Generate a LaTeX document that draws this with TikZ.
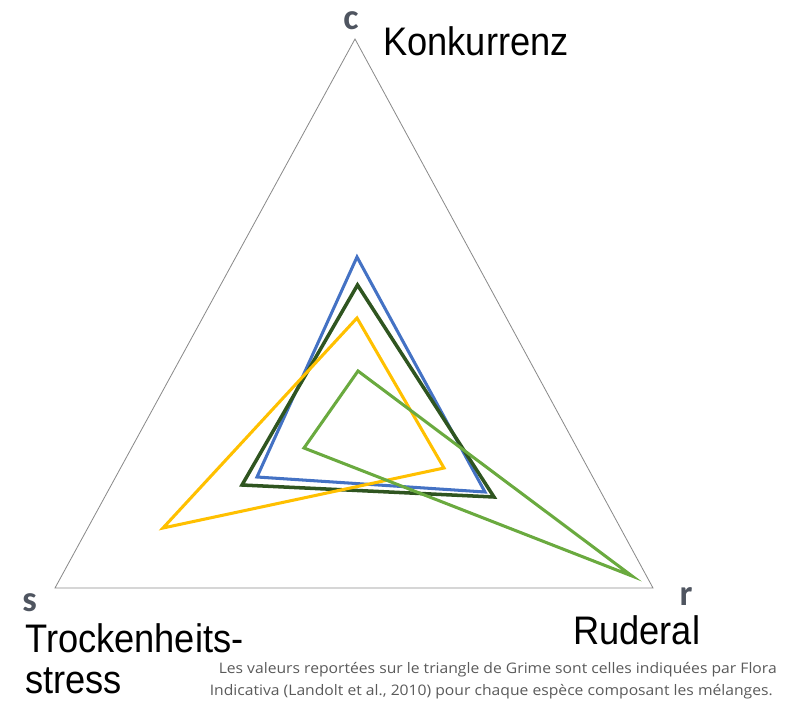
\documentclass[tikz,border=0pt]{standalone}
\usepackage{fontspec}
\setmainfont{Liberation Sans}
\newfontfamily\grlabelfont[FakeStretch=0.91]{Liberation Sans}
\newfontfamily\grletterfont{Carlito}
\newfontfamily\grnotefont[FakeStretch=1.08]{Open Sans}
\usetikzlibrary{positioning}
\definecolor{grframe}{HTML}{8A8A8A}
\definecolor{grink}{HTML}{000000}
\definecolor{grletterc}{HTML}{4F5560}
\definecolor{grnoteink}{HTML}{5A5A5A}
\definecolor{grblue}{HTML}{4472C4}
\definecolor{grdarkgreen}{HTML}{2F5520}
\definecolor{gryellow}{HTML}{FFC000}
\definecolor{grgreen}{HTML}{6AAA3F}
\tikzset{
  grtriangle/.style={draw=grframe, line width=0.7pt, line join=miter},
  grpoly/.style={line width=2.6pt, line join=miter},
  grletter/.style={font=\grletterfont\bfseries\fontsize{31}{31}\selectfont,
    text=grletterc, inner sep=0pt},
  grlabel/.style={font=\grlabelfont\fontsize{34}{35}\selectfont,
    text=grink, inner sep=0pt, anchor=base west},
  grnote/.style={font=\grnotefont\fontsize{12.4}{18.8}\selectfont,
    text=grnoteink, inner sep=0pt, anchor=base east},
}

\begin{document}
\begin{tikzpicture}[x=0.03cm, y=-0.03cm]
\useasboundingbox (0,0) rectangle (786,701);

% Grime triangle.
\coordinate (cpole) at (355, 39);
\coordinate (spole) at (55, 588);
\coordinate (rpole) at (653, 588);
\draw[grtriangle] (cpole) -- (spole) -- (rpole) -- cycle;

% Mixtures.
\draw[grpoly, draw=grblue]
  (357, 257) -- (257, 477) -- (485, 492) -- cycle;
\draw[grpoly, draw=grdarkgreen, line width=3pt]
  (357.5, 285) -- (242, 485) -- (494, 497) -- cycle;
\draw[grpoly, draw=gryellow]
  (357, 318) -- (163, 528) -- (444, 468) -- cycle;
\draw[grpoly, draw=grgreen]
  (358, 371) -- (304, 448) -- (632, 576) -- cycle;

% Pole letters and names.
\node[grletter] (cletter) at (351, 21) {c};
\node[grletter] (sletter) at (29.5, 603) {s};
\node[grletter] (rletter) at (686, 597) {r};
\node[grlabel] (cname) at (383, 55) {Konkurrenz};
\node[grlabel] (sname) at (25, 652) {Trockenheits-};
\node[grlabel] (sname2) at (25, 693) {stress};
\node[grlabel] (rname) at (573, 644) {Ruderal};

% Source note.
\node[grnote] (note1) at (777, 673)
  {Les valeurs report\'ees sur le triangle de Grime sont celles
   indiqu\'ees par Flora};
\node[grnote] (note2) at (773, 695)
  {Indicativa (Landolt et al., 2010) pour chaque esp\`ece composant
   les m\'elanges.};

\end{tikzpicture}
\end{document}
